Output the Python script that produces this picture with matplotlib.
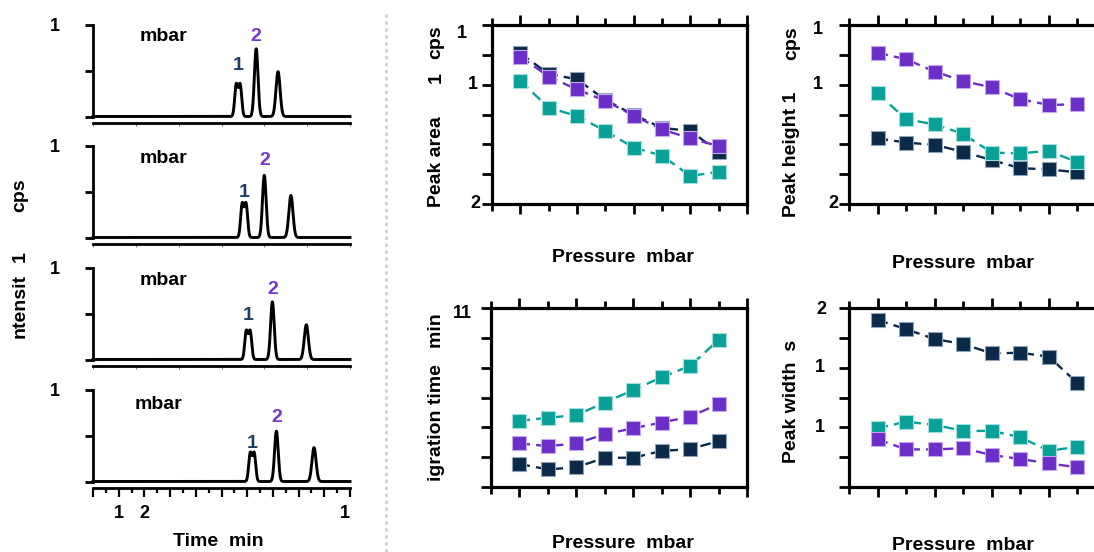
import numpy as np
import matplotlib
matplotlib.use("Agg")
import matplotlib.pyplot as plt

plt.rcParams['font.family'] = ['Liberation Sans', 'DejaVu Sans']
plt.rcParams['font.weight'] = 'bold'

# chromatograms, one row per pressure (time in min, intensity normalised)
rt_peak1 = [11.3, 11.76, 12.08, 12.39]
h_peak1 = [0.36, 0.38, 0.32, 0.32]
rt_peak2 = [12.7, 13.33, 13.96, 14.27]
h_peak2 = [0.74, 0.68, 0.63, 0.55]
rt_peak3 = [14.4, 15.4, 16.6, 17.2]
h_peak3 = [0.49, 0.46, 0.38, 0.37]
label1_y = [0.56, 0.49, 0.48, 0.42]
label2_y = [0.87, 0.84, 0.76, 0.70]
pressure_label_x = [5.5, 5.5, 5.5, 5.1]
pressure_label_y = [0.87, 0.86, 0.86, 0.84]

# summary plots, eight pressure steps
pressure_idx = [1, 2, 3, 4, 5, 6, 7, 8]
area_navy = [5.05, 4.36, 4.18, 3.49, 2.99, 2.55, 2.45, 1.75]
area_purple = [4.94, 4.27, 3.84, 3.46, 2.96, 2.50, 2.20, 1.94]
area_teal = [4.12, 3.23, 2.95, 2.45, 1.89, 1.62, 0.94, 1.08]
height_navy = [2.20, 2.06, 1.98, 1.75, 1.47, 1.20, 1.16, 1.06]
height_teal = [3.71, 2.84, 2.67, 2.35, 1.72, 1.70, 1.78, 1.40]
height_purple = [5.07, 4.85, 4.44, 4.12, 3.91, 3.51, 3.32, 3.34]
mt_navy = [0.77, 0.59, 0.66, 0.98, 0.98, 1.21, 1.27, 1.54]
mt_teal = [2.22, 2.32, 2.41, 2.83, 3.25, 3.68, 4.06, 4.93]
mt_purple = [1.46, 1.37, 1.46, 1.77, 1.97, 2.16, 2.36, 2.78]
width_navy = [5.60, 5.29, 4.96, 4.79, 4.48, 4.50, 4.37, 3.48]
width_teal = [1.97, 2.19, 2.08, 1.88, 1.88, 1.67, 1.21, 1.35]
width_purple = [1.60, 1.26, 1.26, 1.30, 1.07, 0.94, 0.79, 0.66]

NAVY = '#0b2948'
TEAL = '#09a098'
PURPLE = '#6b2fc8'

W, H = 1094, 552
fig = plt.figure(figsize=(W / 100, H / 100), dpi=100)


def add_ax(l, t, r, b):
    return fig.add_axes([l / W, 1 - b / H, (r - l) / W, (b - t) / H])


def gauss(t, mu, s):
    return np.exp(-0.5 * ((t - mu) / s) ** 2)


t = np.linspace(0, 20, 3000)
tops = [25, 146, 268, 390]
for i, top in enumerate(tops):
    base = top + 91.5
    ax = add_ax(93, top, 350, base + 6)
    ax.set_xlim(0, 20)
    ax.set_ylim(-6 / 91.5, 1)
    # peak 1 is a partly resolved doublet with a shallow dip on top
    trace = (h_peak1[i] / 1.04 * (gauss(t, rt_peak1[i] - 0.15, 0.12) + gauss(t, rt_peak1[i] + 0.15, 0.12))
             + h_peak2[i] * gauss(t, rt_peak2[i], 0.14)
             + h_peak3[i] * gauss(t, rt_peak3[i], 0.16))
    ax.plot(t, trace, color='black', lw=2.1, clip_on=False)
    for s in ['top', 'right']:
        ax.spines[s].set_visible(False)
    ax.spines['left'].set_bounds(0, 1)
    ax.spines['left'].set_linewidth(2)
    ax.spines['bottom'].set_linewidth(2)
    ax.set_yticks([0, 0.5, 1])
    ax.set_yticklabels([])
    ax.tick_params(axis='y', direction='out', length=6, width=2)
    if i < 3:
        ax.set_xticks(np.linspace(0, 20, 7))
        ax.tick_params(axis='x', direction='out', length=2, width=0.8, color='#777777')
        ax.set_xticklabels([])
    else:
        ax.set_xticks(np.arange(0, 21, 2))
        ax.set_xticks(np.arange(0, 21, 1), minor=True)
        ax.tick_params(axis='x', which='major', direction='out', length=6.5, width=1.6)
        ax.tick_params(axis='x', which='minor', direction='out', length=3.5, width=1.6)
        ax.set_xticklabels(['' if v not in (2, 4, 20) else {2: '1', 4: '2', 20: '1'}[v]
                            for v in range(0, 21, 2)], fontsize=13, fontweight='bold')
        ax.get_xticklabels()[-1].set_ha('right')
        ax.tick_params(axis='x', pad=6)
    ax.annotate('1', xy=(0, 1), xycoords=('axes fraction', 'data'), xytext=(-24, -1),
                textcoords='offset points', ha='right', va='center', fontsize=13, fontweight='bold')
    ax.text(pressure_label_x[i], pressure_label_y[i], 'mbar', ha='center', va='center',
            fontsize=14, fontweight='bold')
    ax.text(rt_peak1[i], label1_y[i], '1', color='#1d3c5e', ha='center', va='center',
            fontsize=14, fontweight='bold')
    ax.text(rt_peak2[i], label2_y[i], '2', color='#7438d0', ha='center', va='center',
            fontsize=14, fontweight='bold')

lab = dict(fontsize=14, fontweight='bold', ha='center', va='center')
fig.text(218 / W, 1 - 541 / H, 'Time  min', **lab)
fig.text(20 / W, 1 - 306 / H, 'ntensit', rotation=90, **lab)
fig.text(20 / W, 1 - 257 / H, '1', rotation=90, **lab)
fig.text(20 / W, 1 - 195 / H, 'cps', rotation=90, **lab)

# dotted divider between the two halves
fig.add_artist(plt.Line2D([385.5 / W, 385.5 / W], [0, 1 - 12 / H], transform=fig.transFigure,
                          color='#cfcfcf', lw=2, linestyle=(0, (1.2, 1.3))))


def summary(ax, series, ticklabels):
    for vals, col, edge in series:
        ax.plot(pressure_idx, vals, color=col, lw=1.7, linestyle=(0, (4.5, 2.6)),
                marker='s', ms=10, mfc=col, mec=edge, mew=0.8, clip_on=False)
    ax.set_xlim(0, 9)
    ax.set_ylim(0, 6)
    for s in ax.spines.values():
        s.set_linewidth(2.3)
    ax.set_yticks(range(7))
    ax.set_yticklabels([])
    ax.set_xticks([1, 3, 5, 7, 9])
    ax.set_xticks([0, 2, 4, 6, 8], minor=True)
    ax.set_xticklabels([])
    ax.tick_params(axis='y', direction='out', length=7, width=2)
    ax.tick_params(axis='x', which='major', direction='out', length=7.5, width=2, top=True)
    ax.tick_params(axis='x', which='minor', direction='out', length=5, width=2, top=True)
    for yv, lbl, dx, dy in ticklabels:
        ax.annotate(lbl, xy=(0, yv), xycoords=('axes fraction', 'data'), xytext=(-dx * 0.72, -dy * 0.72),
                    textcoords='offset points', ha='right', va='center', fontsize=13, fontweight='bold')


navy_e, teal_e, purple_e = '#8fa3b8', '#9fe0dc', '#c6a8f0'

ax1 = add_ax(492, 25, 747, 204)
summary(ax1, [(area_navy, NAVY, navy_e), (area_teal, TEAL, teal_e), (area_purple, PURPLE, purple_e)],
        [(6, '1', 25, 8), (4, '1', 14, 0), (0, '2', 12, 0)])
ax2 = add_ax(849, 25, 1106, 204)
summary(ax2, [(height_navy, NAVY, navy_e), (height_teal, TEAL, teal_e), (height_purple, PURPLE, purple_e)],
        [(6, '1', 26, 4), (4, '1', 26, 0), (0, '2', 11, 0)])
ax3 = add_ax(491, 308, 747, 487)
summary(ax3, [(mt_navy, NAVY, navy_e), (mt_teal, TEAL, teal_e), (mt_purple, PURPLE, purple_e)],
        [(6, '11', 19, 5)])
ax4 = add_ax(849, 308, 1106, 487)
summary(ax4, [(width_navy, NAVY, navy_e), (width_teal, TEAL, teal_e), (width_purple, PURPLE, purple_e)],
        [(6, '2', 23, 1), (4, '1', 24, 0), (2, '1', 24, 0)])

fig.text(623 / W, 1 - 257 / H, 'Pressure  mbar', **lab)
fig.text(963 / W, 1 - 263 / H, 'Pressure  mbar', **lab)
fig.text(623 / W, 1 - 543 / H, 'Pressure  mbar', **lab)
fig.text(963 / W, 1 - 545 / H, 'Pressure  mbar', **lab)
fig.text(436 / W, 1 - 162 / H, 'Peak area', rotation=90, **lab)
fig.text(436 / W, 1 - 78 / H, '1', rotation=90, **lab)
fig.text(436 / W, 1 - 42 / H, 'cps', rotation=90, **lab)
fig.text(792 / W, 1 - 154 / H, 'Peak height 1', rotation=90, **lab)
fig.text(792 / W, 1 - 43 / H, 'cps', rotation=90, **lab)
fig.text(436 / W, 1 - 397 / H, 'igration time   min', rotation=90, **lab)
fig.text(791 / W, 1 - 401 / H, 'Peak width  s', rotation=90, **lab)

fig.savefig('out.png', dpi=100)
